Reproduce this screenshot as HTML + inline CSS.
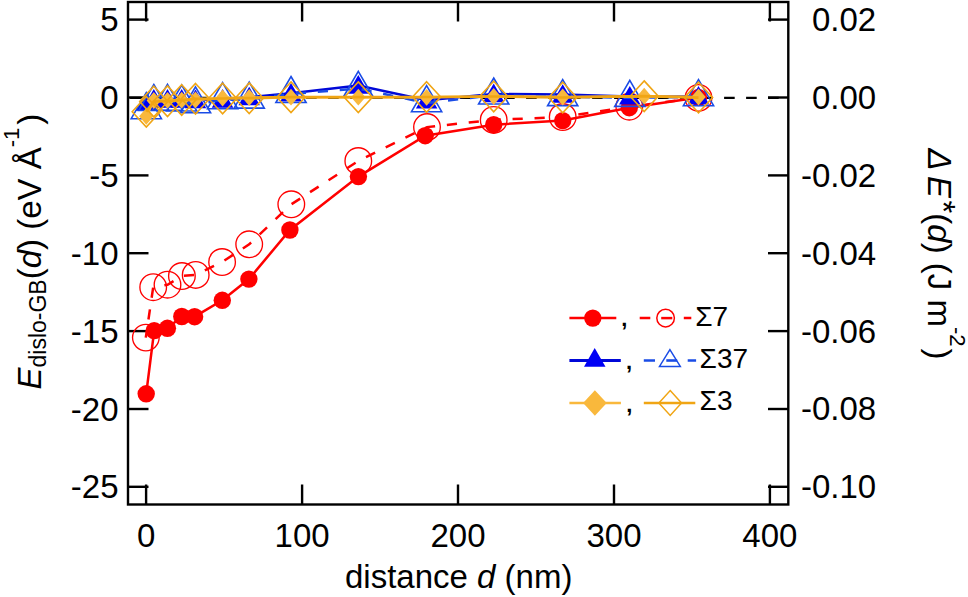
<!DOCTYPE html><html><head><meta charset="utf-8"><style>html,body{margin:0;padding:0;background:#fff;}svg{display:block;font-family:"Liberation Sans",sans-serif;}</style></head><body>
<svg width="968" height="597" viewBox="0 0 968 597">
<g stroke="#000" stroke-width="2.4" fill="none">
<rect x="128" y="2" width="660.3" height="502.5"/>
<line x1="128" y1="19.6" x2="148.5" y2="19.6"/>
<line x1="788.3" y1="19.6" x2="768" y2="19.6"/>
<line x1="128" y1="97.5" x2="148.5" y2="97.5"/>
<line x1="788.3" y1="97.5" x2="768" y2="97.5"/>
<line x1="128" y1="175.4" x2="148.5" y2="175.4"/>
<line x1="788.3" y1="175.4" x2="768" y2="175.4"/>
<line x1="128" y1="253.2" x2="148.5" y2="253.2"/>
<line x1="788.3" y1="253.2" x2="768" y2="253.2"/>
<line x1="128" y1="331.1" x2="148.5" y2="331.1"/>
<line x1="788.3" y1="331.1" x2="768" y2="331.1"/>
<line x1="128" y1="409.0" x2="148.5" y2="409.0"/>
<line x1="788.3" y1="409.0" x2="768" y2="409.0"/>
<line x1="128" y1="486.8" x2="148.5" y2="486.8"/>
<line x1="788.3" y1="486.8" x2="768" y2="486.8"/>
<line x1="146.1" y1="504.5" x2="146.1" y2="484.5"/>
<line x1="146.1" y1="2" x2="146.1" y2="21.5"/>
<line x1="302.1" y1="504.5" x2="302.1" y2="484.5"/>
<line x1="302.1" y1="2" x2="302.1" y2="21.5"/>
<line x1="458.0" y1="504.5" x2="458.0" y2="484.5"/>
<line x1="458.0" y1="2" x2="458.0" y2="21.5"/>
<line x1="614.0" y1="504.5" x2="614.0" y2="484.5"/>
<line x1="614.0" y1="2" x2="614.0" y2="21.5"/>
<line x1="769.9" y1="504.5" x2="769.9" y2="484.5"/>
<line x1="769.9" y1="2" x2="769.9" y2="21.5"/>
</g>
<line x1="129" y1="97.8" x2="787" y2="97.8" stroke="#000" stroke-width="2.2" stroke-dasharray="10.6 11.4" stroke-dashoffset="20.90"/>
<polyline points="145.8,337.6 153.2,287.2 167.5,284.7 181.9,276.0 195.7,274.9 222.1,262.0 249.2,244.3 291.3,204.3 358.3,161.0 427.0,127.1 493.7,119.9 562.7,117.0 629.3,106.7 698.5,97.9" fill="none" stroke="#ff0000" stroke-width="2.5" stroke-dasharray="10.2 11.8" stroke-dashoffset="3.71"/>
<circle cx="145.85" cy="337.6" r="13.3" fill="none" stroke="#ff0000" stroke-width="1.35"/>
<circle cx="153.2" cy="287.2" r="13.3" fill="none" stroke="#ff0000" stroke-width="1.35"/>
<circle cx="167.5" cy="284.7" r="13.3" fill="none" stroke="#ff0000" stroke-width="1.35"/>
<circle cx="181.9" cy="276.0" r="13.3" fill="none" stroke="#ff0000" stroke-width="1.35"/>
<circle cx="195.7" cy="274.9" r="13.3" fill="none" stroke="#ff0000" stroke-width="1.35"/>
<circle cx="222.1" cy="262.0" r="13.3" fill="none" stroke="#ff0000" stroke-width="1.35"/>
<circle cx="249.2" cy="244.3" r="13.3" fill="none" stroke="#ff0000" stroke-width="1.35"/>
<circle cx="291.3" cy="204.3" r="13.3" fill="none" stroke="#ff0000" stroke-width="1.35"/>
<circle cx="358.3" cy="161.0" r="13.3" fill="none" stroke="#ff0000" stroke-width="1.35"/>
<circle cx="427.0" cy="127.1" r="13.3" fill="none" stroke="#ff0000" stroke-width="1.35"/>
<circle cx="493.7" cy="119.9" r="13.3" fill="none" stroke="#ff0000" stroke-width="1.35"/>
<circle cx="562.7" cy="117.0" r="13.3" fill="none" stroke="#ff0000" stroke-width="1.35"/>
<circle cx="629.3" cy="106.7" r="13.3" fill="none" stroke="#ff0000" stroke-width="1.35"/>
<circle cx="698.5" cy="97.9" r="13.3" fill="none" stroke="#ff0000" stroke-width="1.35"/>
<polyline points="146.2,393.8 154.2,330.6 167.4,328.3 181.8,316.5 194.6,316.7 222.3,300.3 248.9,279.1 289.9,230.0 358.4,176.6 425.2,135.7 493.7,124.7 562.7,120.6 629.3,107.7 698.5,97.5" fill="none" stroke="#ff0000" stroke-width="2.5"/>
<circle cx="146.2" cy="393.8" r="8.7" fill="#ff0000"/>
<circle cx="154.2" cy="330.6" r="8.7" fill="#ff0000"/>
<circle cx="167.4" cy="328.3" r="8.7" fill="#ff0000"/>
<circle cx="181.8" cy="316.5" r="8.7" fill="#ff0000"/>
<circle cx="194.6" cy="316.7" r="8.7" fill="#ff0000"/>
<circle cx="222.3" cy="300.3" r="8.7" fill="#ff0000"/>
<circle cx="248.9" cy="279.1" r="8.7" fill="#ff0000"/>
<circle cx="289.9" cy="230.0" r="8.7" fill="#ff0000"/>
<circle cx="358.4" cy="176.6" r="8.7" fill="#ff0000"/>
<circle cx="425.2" cy="135.7" r="8.7" fill="#ff0000"/>
<circle cx="493.7" cy="124.7" r="8.7" fill="#ff0000"/>
<circle cx="562.7" cy="120.6" r="8.7" fill="#ff0000"/>
<circle cx="629.3" cy="107.7" r="8.7" fill="#ff0000"/>
<circle cx="698.5" cy="97.5" r="8.7" fill="#ff0000"/>
<polyline points="146.3,102.5 153.8,99.5 167.5,99.5 181.7,99.5 195.5,100.0 222.6,99.5 249.2,97.1 291.0,93.3 358.3,85.5 426.6,100.3 493.7,94.0 562.7,94.6 629.8,96.4 698.5,96.4" fill="none" stroke="#0008d8" stroke-width="2.5"/>
<polygon points="146.3,92.1 157.1,110.7 135.6,110.7" fill="#0000f5"/>
<polygon points="153.8,89.1 164.6,107.7 143.1,107.7" fill="#0000f5"/>
<polygon points="167.5,89.1 178.2,107.7 156.8,107.7" fill="#0000f5"/>
<polygon points="181.7,89.1 192.4,107.7 170.9,107.7" fill="#0000f5"/>
<polygon points="195.5,89.6 206.2,108.2 184.8,108.2" fill="#0000f5"/>
<polygon points="222.6,89.1 233.3,107.7 211.8,107.7" fill="#0000f5"/>
<polygon points="249.2,86.7 259.9,105.3 238.4,105.3" fill="#0000f5"/>
<polygon points="291.0,82.9 301.8,101.5 280.2,101.5" fill="#0000f5"/>
<polygon points="358.3,75.1 369.1,93.7 347.6,93.7" fill="#0000f5"/>
<polygon points="426.6,89.9 437.4,108.5 415.9,108.5" fill="#0000f5"/>
<polygon points="493.7,83.6 504.4,102.2 482.9,102.2" fill="#0000f5"/>
<polygon points="562.7,84.2 573.5,102.8 552.0,102.8" fill="#0000f5"/>
<polygon points="629.8,86.0 640.5,104.6 619.0,104.6" fill="#0000f5"/>
<polygon points="698.5,86.0 709.2,104.6 687.8,104.6" fill="#0000f5"/>
<polyline points="146.3,110.0 153.8,101.8 167.5,101.6 181.7,102.3 195.5,104.1 222.6,100.0 249.2,99.4 291.0,93.8 358.3,88.6 426.6,103.0 493.7,95.3 562.7,96.9 629.8,97.7 698.5,97.0" fill="none" stroke="#1a4ce6" stroke-width="2.5" stroke-dasharray="10.2 11.8"/>
<polygon points="146.3,92.7 161.4,118.7 131.2,118.7" fill="none" stroke="#1a4ce6" stroke-width="1.6"/>
<polygon points="153.8,84.5 168.9,110.5 138.7,110.5" fill="none" stroke="#1a4ce6" stroke-width="1.6"/>
<polygon points="167.5,84.3 182.6,110.3 152.4,110.3" fill="none" stroke="#1a4ce6" stroke-width="1.6"/>
<polygon points="181.7,85.0 196.8,111.0 166.6,111.0" fill="none" stroke="#1a4ce6" stroke-width="1.6"/>
<polygon points="195.5,86.8 210.6,112.8 180.4,112.8" fill="none" stroke="#1a4ce6" stroke-width="1.6"/>
<polygon points="222.6,82.7 237.7,108.7 207.5,108.7" fill="none" stroke="#1a4ce6" stroke-width="1.6"/>
<polygon points="249.2,82.1 264.3,108.1 234.1,108.1" fill="none" stroke="#1a4ce6" stroke-width="1.6"/>
<polygon points="291.0,76.5 306.1,102.5 275.9,102.5" fill="none" stroke="#1a4ce6" stroke-width="1.6"/>
<polygon points="358.3,71.3 373.4,97.3 343.2,97.3" fill="none" stroke="#1a4ce6" stroke-width="1.6"/>
<polygon points="426.6,85.7 441.7,111.7 411.5,111.7" fill="none" stroke="#1a4ce6" stroke-width="1.6"/>
<polygon points="493.7,78.0 508.8,104.0 478.6,104.0" fill="none" stroke="#1a4ce6" stroke-width="1.6"/>
<polygon points="562.7,79.6 577.8,105.6 547.6,105.6" fill="none" stroke="#1a4ce6" stroke-width="1.6"/>
<polygon points="629.8,80.4 644.9,106.4 614.7,106.4" fill="none" stroke="#1a4ce6" stroke-width="1.6"/>
<polygon points="698.5,79.7 713.6,105.7 683.4,105.7" fill="none" stroke="#1a4ce6" stroke-width="1.6"/>
<polyline points="146.3,116.3 153.8,100.5 167.5,100.3 181.7,100.2 195.5,100.0 222.6,98.0 249.2,97.5 291.0,97.2 358.3,97.2 426.6,97.3 493.7,96.5 562.7,97.0 644.2,96.2 698.5,97.0" fill="none" stroke="#f9b83c" stroke-width="2.6"/>
<polygon points="146.3,107.9 153.5,116.3 146.3,124.7 139.1,116.3" fill="#f9b83c"/>
<polygon points="153.8,92.1 161.0,100.5 153.8,108.9 146.6,100.5" fill="#f9b83c"/>
<polygon points="167.5,91.9 174.7,100.3 167.5,108.7 160.3,100.3" fill="#f9b83c"/>
<polygon points="181.7,91.8 188.9,100.2 181.7,108.6 174.5,100.2" fill="#f9b83c"/>
<polygon points="195.5,91.6 202.7,100.0 195.5,108.4 188.3,100.0" fill="#f9b83c"/>
<polygon points="222.6,89.6 229.8,98.0 222.6,106.4 215.4,98.0" fill="#f9b83c"/>
<polygon points="249.2,89.1 256.4,97.5 249.2,105.9 242.0,97.5" fill="#f9b83c"/>
<polygon points="291.0,88.8 298.2,97.2 291.0,105.6 283.8,97.2" fill="#f9b83c"/>
<polygon points="358.3,88.8 365.5,97.2 358.3,105.6 351.1,97.2" fill="#f9b83c"/>
<polygon points="426.6,88.9 433.8,97.3 426.6,105.7 419.4,97.3" fill="#f9b83c"/>
<polygon points="493.7,88.1 500.9,96.5 493.7,104.9 486.5,96.5" fill="#f9b83c"/>
<polygon points="562.7,88.6 569.9,97.0 562.7,105.4 555.5,97.0" fill="#f9b83c"/>
<polygon points="644.2,87.8 651.4,96.2 644.2,104.6 637.0,96.2" fill="#f9b83c"/>
<polygon points="698.5,88.6 705.7,97.0 698.5,105.4 691.3,97.0" fill="#f9b83c"/>
<polyline points="146.3,111.8 153.8,101.5 167.5,101.2 181.7,100.1 195.5,98.8 222.6,98.5 249.2,98.2 291.0,97.2 358.3,97.2 426.6,97.0 493.7,96.5 562.7,97.5 644.2,96.2 698.5,97.6" fill="none" stroke="#f0a514" stroke-width="2.7"/>
<polygon points="146.3,96.5 160.4,111.8 146.3,127.1 132.2,111.8" fill="none" stroke="#f0a514" stroke-width="1.6"/>
<polygon points="153.8,86.2 167.9,101.5 153.8,116.8 139.7,101.5" fill="none" stroke="#f0a514" stroke-width="1.6"/>
<polygon points="167.5,85.9 181.6,101.2 167.5,116.5 153.4,101.2" fill="none" stroke="#f0a514" stroke-width="1.6"/>
<polygon points="181.7,84.8 195.8,100.1 181.7,115.4 167.6,100.1" fill="none" stroke="#f0a514" stroke-width="1.6"/>
<polygon points="195.5,83.5 209.6,98.8 195.5,114.1 181.4,98.8" fill="none" stroke="#f0a514" stroke-width="1.6"/>
<polygon points="222.6,83.2 236.7,98.5 222.6,113.8 208.5,98.5" fill="none" stroke="#f0a514" stroke-width="1.6"/>
<polygon points="249.2,82.9 263.3,98.2 249.2,113.5 235.1,98.2" fill="none" stroke="#f0a514" stroke-width="1.6"/>
<polygon points="291.0,81.9 305.1,97.2 291.0,112.5 276.9,97.2" fill="none" stroke="#f0a514" stroke-width="1.6"/>
<polygon points="358.3,81.9 372.4,97.2 358.3,112.5 344.2,97.2" fill="none" stroke="#f0a514" stroke-width="1.6"/>
<polygon points="426.6,81.7 440.7,97.0 426.6,112.3 412.5,97.0" fill="none" stroke="#f0a514" stroke-width="1.6"/>
<polygon points="493.7,81.2 507.8,96.5 493.7,111.8 479.6,96.5" fill="none" stroke="#f0a514" stroke-width="1.6"/>
<polygon points="562.7,82.2 576.8,97.5 562.7,112.8 548.6,97.5" fill="none" stroke="#f0a514" stroke-width="1.6"/>
<polygon points="644.2,80.9 658.3,96.2 644.2,111.5 630.1,96.2" fill="none" stroke="#f0a514" stroke-width="1.6"/>
<polygon points="698.5,82.3 712.6,97.6 698.5,112.9 684.4,97.6" fill="none" stroke="#f0a514" stroke-width="1.6"/>
<g font-size="33" fill="#000">
<text x="118.5" y="31.1" text-anchor="end">5</text>
<text x="118.5" y="109.0" text-anchor="end">0</text>
<text x="118.5" y="186.9" text-anchor="end">-5</text>
<text x="118.5" y="264.7" text-anchor="end">-10</text>
<text x="118.5" y="342.6" text-anchor="end">-15</text>
<text x="118.5" y="420.5" text-anchor="end">-20</text>
<text x="118.5" y="498.3" text-anchor="end">-25</text>
<text x="146.1" y="546.9" text-anchor="middle">0</text>
<text x="302.1" y="546.9" text-anchor="middle">100</text>
<text x="458.0" y="546.9" text-anchor="middle">200</text>
<text x="614.0" y="546.9" text-anchor="middle">300</text>
<text x="769.9" y="546.9" text-anchor="middle">400</text>
<text x="876.2" y="31.0" text-anchor="end">0.02</text>
<text x="876.2" y="108.9" text-anchor="end">0.00</text>
<text x="876.2" y="186.8" text-anchor="end">-0.02</text>
<text x="876.2" y="264.6" text-anchor="end">-0.04</text>
<text x="876.2" y="342.5" text-anchor="end">-0.06</text>
<text x="876.2" y="420.4" text-anchor="end">-0.08</text>
<text x="876.2" y="498.2" text-anchor="end">-0.10</text>
</g>
<text x="345" y="588" font-size="33">distance <tspan font-style="italic">d</tspan> (nm)</text>
<text transform="translate(41.0,389.5) rotate(-90)" font-size="33"><tspan font-style="italic">E</tspan><tspan font-size="23" dy="5.4">dislo-GB</tspan><tspan dy="-5.4">(</tspan><tspan font-style="italic">d</tspan>) (eV Å<tspan font-size="22" dy="-22.5">-1</tspan><tspan dy="22.5" dx="3">)</tspan></text>
<text transform="translate(928.3,148.5) rotate(90)" font-size="33"><tspan font-style="italic">Δ</tspan><tspan font-style="italic" dx="5.3">E</tspan><tspan dy="-3.5" dx="2.5">*</tspan><tspan dy="3.5">(</tspan><tspan font-style="italic">d</tspan>) (J m<tspan font-size="22" dy="-22">-2</tspan><tspan dy="22" dx="2">)</tspan></text>
<line x1="569.4" y1="318.1" x2="616.3" y2="318.1" stroke="#ff0000" stroke-width="2.5"/>
<circle cx="592.8" cy="318.1" r="8.7" fill="#ff0000"/>
<line x1="639.7" y1="318.1" x2="691.3" y2="318.1" stroke="#ff0000" stroke-width="2.5" stroke-dasharray="10.6 33.5 7.5"/>
<circle cx="665.6" cy="318.1" r="8.8" fill="none" stroke="#ff0000" stroke-width="1.5"/>
<line x1="661.2" y1="318.1" x2="672.3" y2="318.1" stroke="#ff0000" stroke-width="2.5"/>
<line x1="569.4" y1="360.5" x2="620.8" y2="360.5" stroke="#0008d8" stroke-width="3.2"/>
<polygon points="594.7,348.0 605.5,366.8 584.0,366.8" fill="#0000f5"/>
<line x1="643.8" y1="360.5" x2="696.1" y2="360.5" stroke="#1a4ce6" stroke-width="2.6" stroke-dasharray="11.2 32.7 8.4"/>
<polygon points="669.9,349.6 680.3,366.4 659.5,366.4" fill="none" stroke="#1a4ce6" stroke-width="1.5"/>
<line x1="666.3" y1="360.5" x2="677.2" y2="360.5" stroke="#1a4ce6" stroke-width="2.6"/>
<line x1="569.4" y1="403.0" x2="620.9" y2="403.0" stroke="#f9b83c" stroke-width="2.6"/>
<polygon points="594.9,390.3 606.7,403.0 594.9,415.7 583.1,403.0" fill="#f9b83c"/>
<line x1="643.8" y1="403.0" x2="695.3" y2="403.0" stroke="#f0a514" stroke-width="2.6"/>
<polygon points="670.2,390.5 681.5,403.0 670.2,415.5 658.9,403.0" fill="none" stroke="#f0a514" stroke-width="1.5"/>
<g font-size="28" fill="#000">
<text x="621.3" y="326.2" font-weight="bold" font-size="22">,</text>
<text x="626.1" y="369.4" font-weight="bold" font-size="22">,</text>
<text x="626.2" y="411.9" font-weight="bold" font-size="22">,</text>
<text x="695.2" y="326.1">Σ7</text>
<text x="699.6" y="368.2">Σ37</text>
<text x="699.6" y="410.1">Σ3</text>
</g>
</svg></body></html>
